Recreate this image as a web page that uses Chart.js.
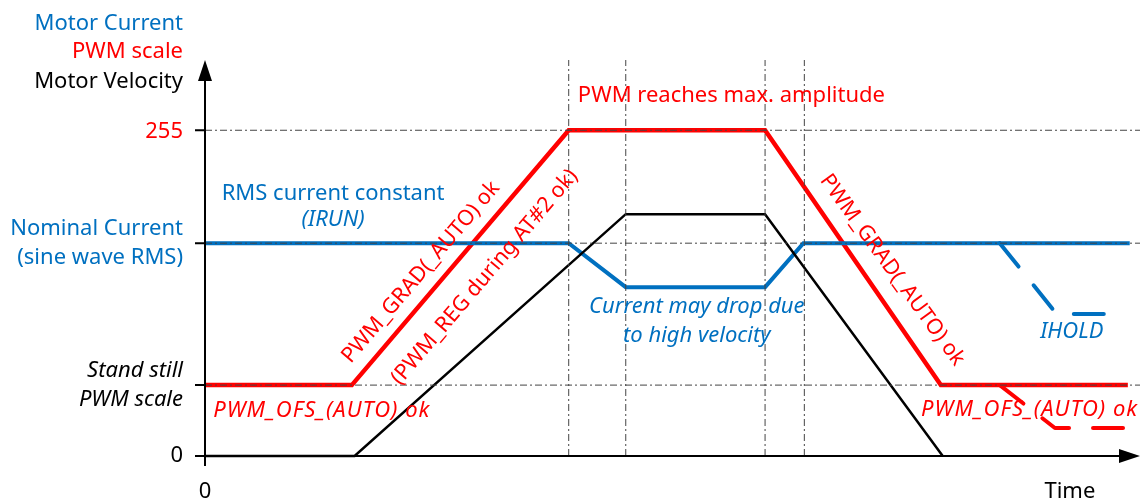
<!DOCTYPE html>
<html>
<head>
<meta charset="utf-8">
<script src="https://cdn.jsdelivr.net/npm/chart.js"></script>
<style>
  html, body { margin: 0; padding: 0; background: #fff; }
  canvas { display: block; }
</style>
</head>
<body>
<canvas id="chart" width="1146" height="503"></canvas>
<script>
// time axis: 0..100 (arbitrary), value axis: PWM scale 0..255
const BLUE = '#0070C0';
const RED = '#FF0000';

// series as [time, value] pairs
const pwmTime = [0, 15.7, 38.9, 59.9, 78.7, 98.7];
const pwmValue = [55.5, 55.5, 255, 255, 55.5, 55.5];

const pwmStandbyTime = [85.0, 90.9, 98.7];
const pwmStandbyValue = [55.5, 21.9, 21.9];

const currentTime = [0, 38.9, 45.0, 59.9, 64.0, 98.9];
const currentValue = [166.6, 166.6, 132.2, 132.2, 166.6, 166.6];

const holdTime = [85.0, 91.1, 96.6];
const holdValue = [166.6, 111.1, 111.1];

const velocityTime = [0, 16.0, 45.0, 59.9, 78.9];
const velocityValue = [0, 0, 189.3, 189.3, 0];

// reference levels and marker times
const levelValues = [255, 166.6, 55.5];
const markerTimes = [38.9, 45.0, 59.9, 64.1];
const axisTicks = [0, 55.5, 166.6, 255];

const pts = (xs, ys) => xs.map((x, i) => ({ x, y: ys[i] }));

const gridDash = [7, 3, 2, 3];
const datasets = [];

levelValues.forEach(v => datasets.push({
    data: [{ x: 0, y: v }, { x: 100, y: v }],
    borderColor: '#444', borderWidth: 1, borderDash: gridDash, order: 0
}));
markerTimes.forEach(t => datasets.push({
    data: [{ x: t, y: 0 }, { x: t, y: 310 }],
    borderColor: '#444', borderWidth: 1, borderDash: gridDash, order: 0
}));

datasets.push({ data: pts(velocityTime, velocityValue), borderColor: '#000', borderWidth: 2.5, order: 1 });
datasets.push({ data: pts(currentTime, currentValue), borderColor: BLUE, borderWidth: 4, order: 2 });
datasets.push({ data: pts(holdTime, holdValue), borderColor: BLUE, borderWidth: 4,
    borderDash: [30, 24], borderCapStyle: 'round', borderJoinStyle: 'round', order: 2 });
datasets.push({ data: pts(pwmTime, pwmValue), borderColor: RED, borderWidth: 4.5, order: 3 });
datasets.push({ data: pts(pwmStandbyTime, pwmStandbyValue), borderColor: RED, borderWidth: 4,
    borderDash: [30, 24], borderCapStyle: 'round', borderJoinStyle: 'round', order: 3 });

datasets.forEach(d => { d.pointRadius = 0; d.tension = 0; d.clip = false; d.fill = false; });

// text annotations, anchored in data units
const notes = [
    { text: 'Motor Current', t: -2.35, v: 338.5, align: 'right', color: BLUE },
    { text: 'PWM scale', t: -2.35, v: 316.6, align: 'right', color: RED },
    { text: 'Motor Velocity', t: -2.35, v: 293.1, align: 'right', color: '#000' },
    { text: '255', t: -2.35, v: 254, align: 'right', color: RED },
    { text: 'Nominal Current', t: -2.35, v: 177.6, align: 'right', color: BLUE },
    { text: '(sine wave RMS)', t: -2.35, v: 154.9, align: 'right', color: BLUE },
    { text: 'Stand still', t: -2.35, v: 66.5, align: 'right', color: '#000', italic: true },
    { text: 'PWM scale', t: -2.35, v: 43.8, align: 'right', color: '#000', italic: true },
    { text: '0', t: -2.35, v: 0, align: 'right', color: '#000' },
    { text: '0', t: 0, v: -28.2, align: 'center', color: '#000' },
    { text: 'Time', t: 92.5, v: -28.2, align: 'center', color: '#000' },
    { text: 'PWM reaches max. amplitude', t: 56.3, v: 282.4, align: 'center', color: RED },
    { text: 'RMS current constant', t: 13.7, v: 205.7, align: 'center', color: BLUE },
    { text: '(IRUN)', t: 13.7, v: 184.6, align: 'center', color: BLUE, italic: true },
    { text: 'Current may drop due', t: 52.6, v: 116.5, align: 'center', color: BLUE, italic: true },
    { text: 'to high velocity', t: 52.6, v: 93.9, align: 'center', color: BLUE, italic: true },
    { text: 'IHOLD', t: 92.7, v: 97.0, align: 'center', color: BLUE, italic: true },
    { text: 'PWM_OFS_(AUTO) ok', t: 12.5, v: 35.2, align: 'center', color: RED, italic: true, spacing: 1 },
    { text: 'PWM_OFS_(AUTO) ok', t: 88.2, v: 36.0, align: 'center', color: RED, italic: true, spacing: 1 },
    { text: 'PWM_GRAD(_AUTO) ok', t: 23.1, v: 143.9, align: 'center', color: RED, angle: -49.6, size: 21.5 },
    { text: '(PWM_REG during AT#2 ok)', t: 29.9, v: 140.0, align: 'center', color: RED, angle: -49.6, size: 21.5 },
    { text: 'PWM_GRAD(_AUTO) ok', t: 73.5, v: 145.5, align: 'center', color: RED, angle: 54, size: 21.5 }
];

const decor = {
    id: 'decor',
    afterDraw(chart) {
        const { ctx, scales: { x, y } } = chart;
        const x0 = x.getPixelForValue(0), y0 = y.getPixelForValue(0);
        const xEnd = x.getPixelForValue(100), yTop = y.getPixelForValue(310);
        ctx.save();
        ctx.strokeStyle = '#000';
        ctx.fillStyle = '#000';
        ctx.lineWidth = 2;
        // axes
        ctx.beginPath();
        ctx.moveTo(x0, y0 + 10); ctx.lineTo(x0, yTop + 18);
        ctx.moveTo(x0 - 10, y0); ctx.lineTo(xEnd - 18, y0);
        axisTicks.forEach(v => {
            const py = y.getPixelForValue(v);
            ctx.moveTo(x0 - 10, py); ctx.lineTo(x0, py);
        });
        ctx.stroke();
        // arrow heads
        ctx.beginPath();
        ctx.moveTo(x0, yTop); ctx.lineTo(x0 - 7, yTop + 21); ctx.lineTo(x0 + 7, yTop + 21); ctx.closePath();
        ctx.moveTo(xEnd, y0); ctx.lineTo(xEnd - 21, y0 - 7); ctx.lineTo(xEnd - 21, y0 + 7); ctx.closePath();
        ctx.fill();
        // texts
        ctx.textBaseline = 'middle';
        notes.forEach(n => {
            ctx.font = (n.italic ? 'italic ' : '') + (n.size || 22) + 'px "Noto Sans"';
            ctx.letterSpacing = (n.spacing || 0) + 'px';
            ctx.fillStyle = n.color;
            ctx.textAlign = n.align;
            ctx.save();
            ctx.translate(x.getPixelForValue(n.t), y.getPixelForValue(n.v));
            if (n.angle) ctx.rotate(n.angle * Math.PI / 180);
            ctx.fillText(n.text, 0, 0);
            ctx.restore();
        });
        ctx.restore();
    }
};

new Chart(document.getElementById('chart'), {
    type: 'line',
    data: { datasets },
    options: {
        responsive: false,
        animation: false,
        layout: { padding: { left: 205, right: 6, top: 60, bottom: 47 } },
        plugins: { legend: { display: false }, tooltip: { enabled: false } },
        scales: {
            x: { type: 'linear', min: 0, max: 100, display: false },
            y: { type: 'linear', min: 0, max: 310, display: false }
        }
    },
    plugins: [decor]
});
</script>
</body>
</html>
